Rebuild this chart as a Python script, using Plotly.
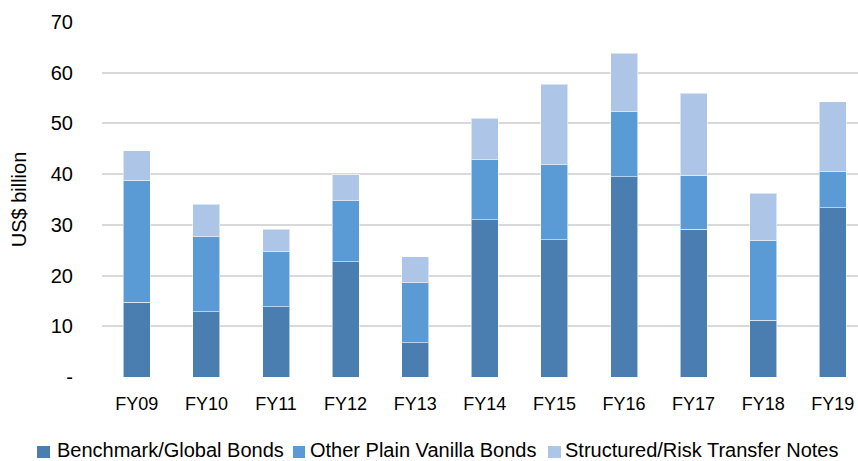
import plotly.graph_objects as go

categories = ["FY09", "FY10", "FY11", "FY12", "FY13", "FY14", "FY15", "FY16", "FY17", "FY18", "FY19"]
benchmark = [14.7, 12.9, 13.9, 22.7, 6.8, 31.0, 27.1, 39.5, 29.1, 11.2, 33.4]
other_plain = [24.1, 14.8, 10.8, 12.1, 11.8, 11.8, 14.8, 12.8, 10.7, 15.8, 7.1]
structured = [5.8, 6.4, 4.4, 5.1, 5.1, 8.2, 15.8, 11.5, 16.2, 9.2, 13.8]
series_names = ["Benchmark/Global Bonds", "Other Plain Vanilla Bonds", "Structured/Risk Transfer Notes"]
series_colors = ["#4A7EB0", "#5B9BD5", "#ADC5E6"]
y_ticks = [0, 10, 20, 30, 40, 50, 60, 70]
y_ticktext = ["-", "10", "20", "30", "40", "50", "60", "70"]

W, H = 858, 461
ML, MR, MT, MB = 102, 0, 22, 84
PW = W - ML - MR
PH = H - MT - MB
CAT_W = 69.6

fig = go.Figure()
for name, vals, col in zip(series_names, [benchmark, other_plain, structured], series_colors):
    fig.add_trace(go.Bar(
        x=categories, y=vals, name=name,
        marker=dict(color=col, line=dict(color="rgba(255,255,255,0.55)", width=1)),
        showlegend=False,
    ))

font_main = "Liberation Sans, Arial, sans-serif"
font_narrow = "Liberation Sans Narrow, Arial Narrow, Liberation Sans, Arial, sans-serif"

def px2x(px):
    return (px - ML) / PW

def py2y(py):
    return (MT + PH - py) / PH

# custom legend (reference pixel coordinates)
legend_sq = [(37, 50), (293, 305), (548, 561)]
legend_tx = [55, 308, 563]
shapes = []
annotations = []
for (x0, x1), tx, name, col in zip(legend_sq, legend_tx, series_names, series_colors):
    shapes.append(dict(type="rect", xref="paper", yref="paper",
                       x0=px2x(x0), x1=px2x(x1), y0=py2y(458), y1=py2y(446),
                       fillcolor=col, line=dict(width=0)))
    annotations.append(dict(xref="paper", yref="paper", x=px2x(tx), y=py2y(450),
                            text=name, showarrow=False, xanchor="left", yanchor="middle",
                            font=dict(family=font_main, size=20, color="#000000")))

fig.update_layout(
    width=W, height=H,
    margin=dict(l=ML, r=MR, t=MT, b=MB),
    paper_bgcolor="white", plot_bgcolor="white",
    barmode="stack", bargap=0.612,
    shapes=shapes, annotations=annotations,
    font=dict(family=font_main, size=20, color="#000000"),
)
fig.update_xaxes(
    range=[-0.5, -0.5 + PW / CAT_W],
    showgrid=False, showline=False, zeroline=False,
    ticks="", ticklabelstandoff=14,
    tickfont=dict(family=font_narrow, size=18, color="#000000"),
)
fig.update_yaxes(
    range=[0, 70], tickvals=y_ticks, ticktext=y_ticktext,
    showgrid=True, gridcolor="#D9D9D9", gridwidth=1.5,
    zeroline=False, showline=False, ticks="", ticklabelstandoff=28,
    tickfont=dict(family=font_main, size=20, color="#000000"),
    title=dict(text="US$ billion", standoff=18, font=dict(family=font_main, size=20, color="#000000")),
)
fig.write_html(
    "out.html",
    config={"displayModeBar": False},
    default_width=f"{W}px",
    default_height=f"{H}px",
    post_script="document.body.style.margin='0px';document.documentElement.style.overflow='hidden';document.body.style.overflow='hidden';",
)
